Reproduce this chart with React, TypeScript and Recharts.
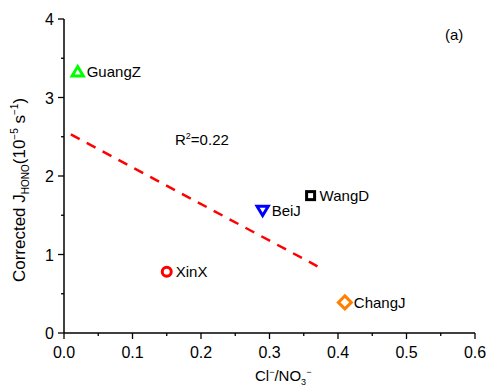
import React from "react";
import {
  ScatterChart,
  Scatter,
  XAxis,
  YAxis,
  Customized,
} from "recharts";

// site measurements
const sites = ["GuangZ", "XinX", "BeiJ", "WangD", "ChangJ"];
const clNo3Ratio = [0.02, 0.15, 0.29, 0.36, 0.41];
const correctedJHono = [3.33, 0.78, 1.56, 1.75, 0.39];

// linear fit end points
const fitX = [0.01, 0.37];
const fitY = [2.53, 0.85];

const xTicks = [0, 0.05, 0.1, 0.15, 0.2, 0.25, 0.3, 0.35, 0.4, 0.45, 0.5, 0.55, 0.6];
const yTicks = [0, 0.5, 1, 1.5, 2, 2.5, 3, 3.5, 4];

const FONT = "'Liberation Sans', Arial, sans-serif";

const markerStyle: Record<string, { color: string; kind: string }> = {
  GuangZ: { color: "#00ff00", kind: "up" },
  XinX: { color: "#ff0000", kind: "circle" },
  BeiJ: { color: "#0000ff", kind: "down" },
  WangD: { color: "#000000", kind: "square" },
  ChangJ: { color: "#ff8000", kind: "diamond" },
};

const points = sites.map((name, i) => ({
  name,
  x: clNo3Ratio[i],
  y: correctedJHono[i],
}));
const fitLine = fitX.map((x, i) => ({ x, y: fitY[i] }));

const isMajor = (v: number, step: number) =>
  Math.abs(v / step - Math.round(v / step)) < 1e-6;

const XTick = (props: any) => {
  const { x, y, payload } = props;
  const v = payload.value as number;
  const major = isMajor(v, 0.1);
  return (
    <g>
      <line x1={x} x2={x} y1={y} y2={y + (major ? 6 : 3)} stroke="#000" strokeWidth={1.3} />
      {major && (
        <text x={x} y={y + 25} textAnchor="middle" fontSize={16} fontFamily={FONT} fill="#000">
          {v.toFixed(1)}
        </text>
      )}
    </g>
  );
};

const YTick = (props: any) => {
  const { x, y, payload } = props;
  const v = payload.value as number;
  const major = isMajor(v, 1);
  return (
    <g>
      <line x1={x} x2={x - (major ? 6 : 3)} y1={y} y2={y} stroke="#000" strokeWidth={1.3} />
      {major && (
        <text x={x - 10} y={y + 6} textAnchor="end" fontSize={16} fontFamily={FONT} fill="#000">
          {v}
        </text>
      )}
    </g>
  );
};

const SiteMarker = (props: any) => {
  const { cx, cy, payload } = props;
  const st = markerStyle[payload.name];
  const common = { fill: "#fff", stroke: st.color, strokeWidth: 3 };
  let mark: React.ReactNode = null;
  if (st.kind === "circle") mark = <circle cx={cx} cy={cy} r={4.5} {...common} />;
  else if (st.kind === "square")
    mark = <rect x={cx - 4} y={cy - 4} width={8} height={8} {...common} />;
  else if (st.kind === "diamond")
    mark = (
      <polygon
        points={`${cx},${cy - 6.5} ${cx + 6.5},${cy} ${cx},${cy + 6.5} ${cx - 6.5},${cy}`}
        {...common}
      />
    );
  else if (st.kind === "up")
    mark = (
      <polygon
        points={`${cx},${cy - 5} ${cx + 5.6},${cy + 4.3} ${cx - 5.6},${cy + 4.3}`}
        {...common}
      />
    );
  else
    mark = (
      <polygon
        points={`${cx},${cy + 5} ${cx + 5.6},${cy - 4.3} ${cx - 5.6},${cy - 4.3}`}
        {...common}
      />
    );
  return (
    <g>
      {mark}
      <text x={cx + 9} y={cy + 5.5} fontSize={15} fontFamily={FONT} fill="#000">
        {payload.name}
      </text>
    </g>
  );
};

const Annotations = () => (
  <g fontFamily={FONT} fill="#000">
    <text transform="translate(25,190) rotate(-90)" textAnchor="middle" fontSize={17}>
      Corrected J
      <tspan fontSize={10} dy={4}>HONO</tspan>
      <tspan dy={-4}>(10</tspan>
      <tspan fontSize={10} dy={-7}>−5</tspan>
      <tspan dy={7}> s</tspan>
      <tspan fontSize={10} dy={-7}>−1</tspan>
      <tspan dy={7}>)</tspan>
    </text>
    <text x={255} y={381} fontSize={15}>
      Cl
      <tspan fontSize={9} dy={-6}>−</tspan>
      <tspan dy={6}>/NO</tspan>
      <tspan fontSize={9} dy={4}>3</tspan>
      <tspan fontSize={9} dy={-10}>−</tspan>
    </text>
    <text x={175} y={145} fontSize={15}>
      R<tspan fontSize={9} dy={-6}>2</tspan>
      <tspan dy={6}>=0.22</tspan>
    </text>
    <text x={445} y={40} fontSize={15}>
      (a)
    </text>
  </g>
);

export default function App() {
  return (
    <div style={{ position: "absolute", left: 0, top: 0, background: "#fff" }}>
      <ScatterChart
        width={488}
        height={388}
        margin={{ top: 19, right: 13, bottom: 0, left: 0 }}
      >
        <XAxis
          dataKey="x"
          type="number"
          domain={[0, 0.6]}
          ticks={xTicks}
          interval={0}
          height={55}
          tickSize={0}
          tickMargin={0}
          tickLine={false}
          tick={<XTick />}
          axisLine={{ stroke: "#000", strokeWidth: 1.5 }}
        />
        <XAxis
          xAxisId="top"
          orientation="top"
          type="number"
          domain={[0, 0.6]}
          height={0}
          tick={false}
          tickLine={false}
          axisLine={{ stroke: "#000", strokeWidth: 1.5 }}
        />
        <YAxis
          dataKey="y"
          type="number"
          domain={[0, 4]}
          ticks={yTicks}
          interval={0}
          width={64}
          tickSize={0}
          tickMargin={0}
          tickLine={false}
          tick={<YTick />}
          axisLine={{ stroke: "#000", strokeWidth: 1.5 }}
        />
        <YAxis
          yAxisId="right"
          orientation="right"
          type="number"
          domain={[0, 4]}
          width={0}
          tick={false}
          tickLine={false}
          axisLine={{ stroke: "#000", strokeWidth: 1.5 }}
        />
        <Scatter
          data={fitLine}
          line={{ stroke: "#ff0000", strokeWidth: 2.5, strokeDasharray: "10 8" }}
          shape={() => <g />}
          isAnimationActive={false}
        />
        <Scatter data={points} shape={<SiteMarker />} isAnimationActive={false} />
        <Customized component={Annotations} />
      </ScatterChart>
    </div>
  );
}
